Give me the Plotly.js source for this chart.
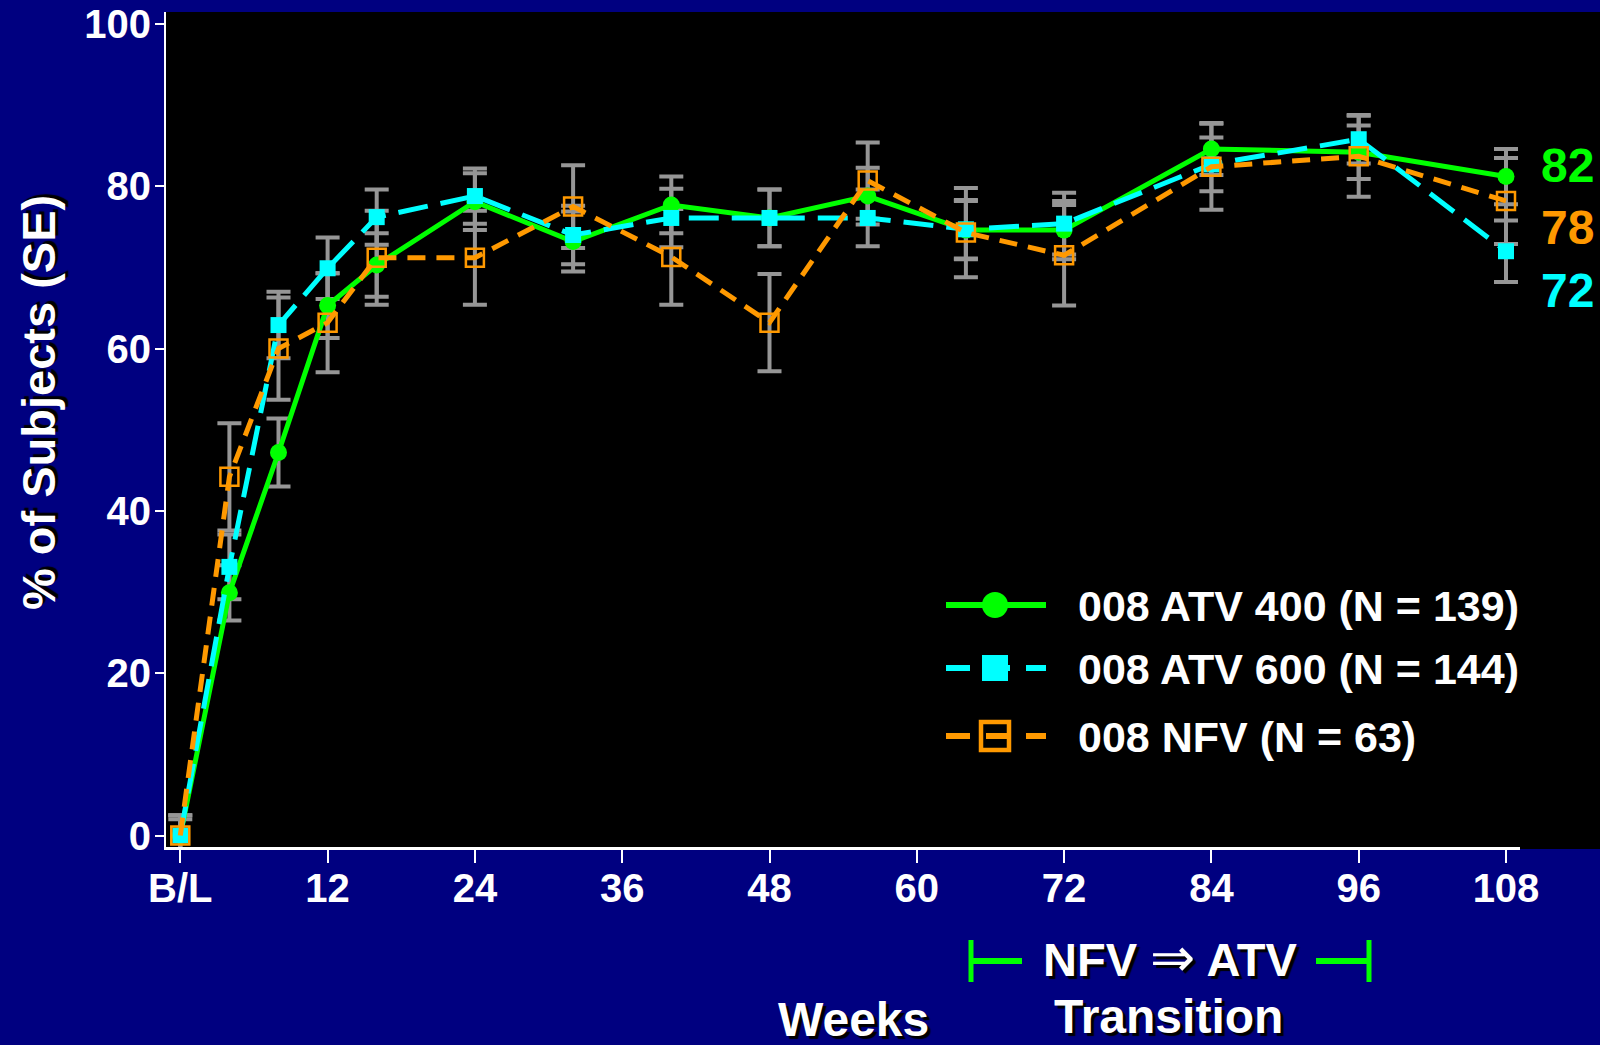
<!DOCTYPE html>
<html>
<head>
<meta charset="utf-8">
<script src="https://cdn.plot.ly/plotly-3.0.1.min.js"></script>
<style>
html,body{margin:0;padding:0;background:#000080;}
#chart{width:1600px;height:1045px;}
</style>
</head>
<body>
<div id="chart"></div>
<script>
// ---------------- data ----------------
const weeks = [0, 4, 8, 12, 16, 24, 32, 40, 48, 56, 64, 72, 84, 96, 108];
const atv400   = [0, 29.9, 47.2, 65.3, 70.3, 78.1, 73.2, 77.7, 76.1, 78.8, 74.6, 74.6, 84.6, 84.2, 81.2];
const atv400SE = [2.5, 3.4, 4.2, 4.0, 3.9, 3.5, 3.7, 3.5, 3.5, 3.5, 3.6, 3.6, 3.2, 3.3, 3.4];
const atv600   = [0, 33.1, 62.9, 69.9, 76.2, 78.8, 74.0, 76.1, 76.1, 76.1, 74.7, 75.4, 82.7, 85.8, 72.0];
const atv600SE = [2.0, 4.0, 4.1, 3.8, 3.4, 3.4, 3.6, 3.6, 3.5, 3.5, 3.6, 3.8, 3.3, 3.0, 3.8];
const nfv      = [0, 44.2, 60.0, 63.2, 71.2, 71.2, 77.5, 71.3, 63.2, 80.7, 74.3, 71.5, 82.4, 83.7, 78.2];
const nfvSE    = [2.5, 6.6, 6.3, 6.1, 5.8, 5.8, 5.1, 5.9, 6.0, 4.7, 5.5, 6.2, 5.3, 5.0, 5.3];

const seriesNames = ['008 ATV 400 (N = 139)', '008 ATV 600 (N = 144)', '008 NFV (N = 63)'];
const endLabels = ['82', '78', '72'];
const xTickVals = [0, 12, 24, 36, 48, 60, 72, 84, 96, 108];
const xTickText = ['B/L', '12', '24', '36', '48', '60', '72', '84', '96', '108'];
const yTickVals = [0, 20, 40, 60, 80, 100];
const yTitle = '% of Subjects (SE)';
const xTitle = 'Weeks';
const transitionTop = 'NFV <span style="font-size:54px;font-weight:normal">\u21D2</span> ATV';
const transitionBottom = 'Transition';

// ---------------- styling ----------------
const GREEN = '#00ff00', CYAN = '#00ffff', ORANGE = '#ff9900', GRAY = '#969696';
const FAM = 'Liberation Sans, Arial, Helvetica, sans-serif';
const SHADOW = '3px 3px 1px #000000';

// plot area in pixels
const L = 166, R = 1520, T = 12, B = 847;
const px = x => (x - L) / (R - L);
const py = y => (B - y) / (B - T);

function errTrace(y, se) {
  return {
    x: weeks, y: y, type: 'scatter', mode: 'markers',
    marker: {size: 1, color: 'rgba(0,0,0,0)'},
    error_y: {type: 'data', array: se, visible: true, color: GRAY, thickness: 4, width: 12},
    showlegend: false, hoverinfo: 'skip'
  };
}

const traces = [
  errTrace(atv400, atv400SE),
  errTrace(atv600, atv600SE),
  errTrace(nfv, nfvSE),
  {
    x: weeks, y: atv400, type: 'scatter', mode: 'lines+markers', name: seriesNames[0],
    line: {color: GREEN, width: 5},
    marker: {symbol: 'circle', size: 17, color: GREEN},
    showlegend: false
  },
  {
    x: weeks, y: atv600, type: 'scatter', mode: 'lines+markers', name: seriesNames[1],
    line: {color: CYAN, width: 5, dash: '30px,13px'},
    marker: {symbol: 'square', size: 16, color: CYAN},
    showlegend: false
  },
  {
    x: weeks, y: nfv, type: 'scatter', mode: 'lines+markers', name: seriesNames[2],
    line: {color: ORANGE, width: 5, dash: '18px,11px'},
    marker: {symbol: 'square-open', size: 18, color: ORANGE, line: {width: 2.5, color: ORANGE}},
    showlegend: false
  }
];

// legend drawn manually (long line samples)
const legendRows = [605, 668, 736];
const legendColors = [GREEN, CYAN, ORANGE];
const legendDash = ['solid', '24px,16px', '24px,16px'];

const shapes = [
  {type: 'rect', xref: 'paper', yref: 'paper', x0: 1, x1: px(1600), y0: py(849), y1: 1,
   fillcolor: '#000000', line: {width: 0}, layer: 'below'},
];
legendRows.forEach((yy, i) => {
  shapes.push({type: 'line', xref: 'paper', yref: 'paper', x0: px(946), x1: px(1046), y0: py(yy), y1: py(yy),
    line: {color: legendColors[i], width: 6, dash: legendDash[i]}});
});
shapes.push({type: 'circle', xref: 'paper', yref: 'paper', x0: px(982), x1: px(1008), y0: py(592), y1: py(618),
  fillcolor: GREEN, line: {width: 0}});
shapes.push({type: 'rect', xref: 'paper', yref: 'paper', x0: px(982), x1: px(1008), y0: py(655), y1: py(681),
  fillcolor: CYAN, line: {width: 0}});
shapes.push({type: 'rect', xref: 'paper', yref: 'paper', x0: px(981), x1: px(1009), y0: py(722), y1: py(750),
  fillcolor: 'rgba(0,0,0,0)', line: {width: 4.5, color: ORANGE}});
const bw = {color: GREEN, width: 5};
shapes.push({type: 'line', xref: 'paper', yref: 'paper', x0: px(971), x1: px(971), y0: py(940), y1: py(982), line: bw});
shapes.push({type: 'line', xref: 'paper', yref: 'paper', x0: px(971), x1: px(1022), y0: py(961), y1: py(961), line: {color: GREEN, width: 6}});
shapes.push({type: 'line', xref: 'paper', yref: 'paper', x0: px(1316), x1: px(1369), y0: py(961), y1: py(961), line: {color: GREEN, width: 6}});
shapes.push({type: 'line', xref: 'paper', yref: 'paper', x0: px(1369), x1: px(1369), y0: py(940), y1: py(982), line: bw});

const annotations = [
  {text: yTitle, xref: 'paper', yref: 'paper', x: px(38), y: py(403), xanchor: 'center', yanchor: 'middle',
   textangle: -90, showarrow: false, font: {family: FAM, size: 47, color: '#ffffff', weight: 'bold', shadow: SHADOW}},
  {text: xTitle, xref: 'paper', yref: 'paper', x: px(853), y: py(1019), xanchor: 'center', yanchor: 'middle',
   showarrow: false, font: {family: FAM, size: 48, color: '#ffffff', weight: 'bold', shadow: SHADOW}},
  {text: transitionTop, xref: 'paper', yref: 'paper', x: px(1170), y: py(957), xanchor: 'center', yanchor: 'middle',
   showarrow: false, font: {family: FAM, size: 47, color: '#ffffff', weight: 'bold', shadow: SHADOW}},
  {text: transitionBottom, xref: 'paper', yref: 'paper', x: px(1168), y: py(1016), xanchor: 'center', yanchor: 'middle',
   showarrow: false, font: {family: FAM, size: 48, color: '#ffffff', weight: 'bold', shadow: SHADOW}},
];
const endY = [165.5, 227.5, 290.5];
const endColors = [GREEN, ORANGE, CYAN];
endLabels.forEach((t, i) => {
  annotations.push({text: t, xref: 'paper', yref: 'paper', x: px(1567), y: py(endY[i]), xanchor: 'center', yanchor: 'middle',
    showarrow: false, font: {family: FAM, size: 48, color: endColors[i], weight: 'bold'}});
});
seriesNames.forEach((t, i) => {
  annotations.push({text: t, xref: 'paper', yref: 'paper', x: px(1076), y: py(legendRows[i] + 1), xanchor: 'left', yanchor: 'middle',
    showarrow: false, font: {family: FAM, size: 43, color: '#ffffff', weight: 'bold'}});
});

const layout = {
  width: 1600, height: 1045,
  margin: {l: L, r: 1600 - R, t: T, b: 1045 - B, pad: 0},
  paper_bgcolor: '#000080',
  plot_bgcolor: '#000000',
  showlegend: false,
  xaxis: {
    range: [(L - 180.3) / 12.275, (R - 180.3) / 12.275],
    tickvals: xTickVals, ticktext: xTickText,
    showgrid: false, zeroline: false,
    showline: true, linecolor: '#ffffff', linewidth: 3,
    ticks: 'outside', ticklen: 13, tickwidth: 2, tickcolor: '#ffffff',
    tickfont: {family: FAM, size: 40, color: '#ffffff', weight: 'bold'},
    ticklabelstandoff: -9
  },
  yaxis: {
    range: [(835.5 - B) / 8.115, (835.5 - T) / 8.115],
    tickvals: yTickVals,
    showgrid: false, zeroline: false,
    showline: true, linecolor: '#ffffff', linewidth: 2,
    ticks: 'outside', ticklen: 9, tickwidth: 2, tickcolor: '#ffffff',
    tickfont: {family: FAM, size: 40, color: '#ffffff', weight: 'bold'},
    ticklabelstandoff: -4
  },
  shapes: shapes,
  annotations: annotations
};

Plotly.newPlot('chart', traces, layout, {displayModeBar: false, staticPlot: true});
</script>
</body>
</html>
